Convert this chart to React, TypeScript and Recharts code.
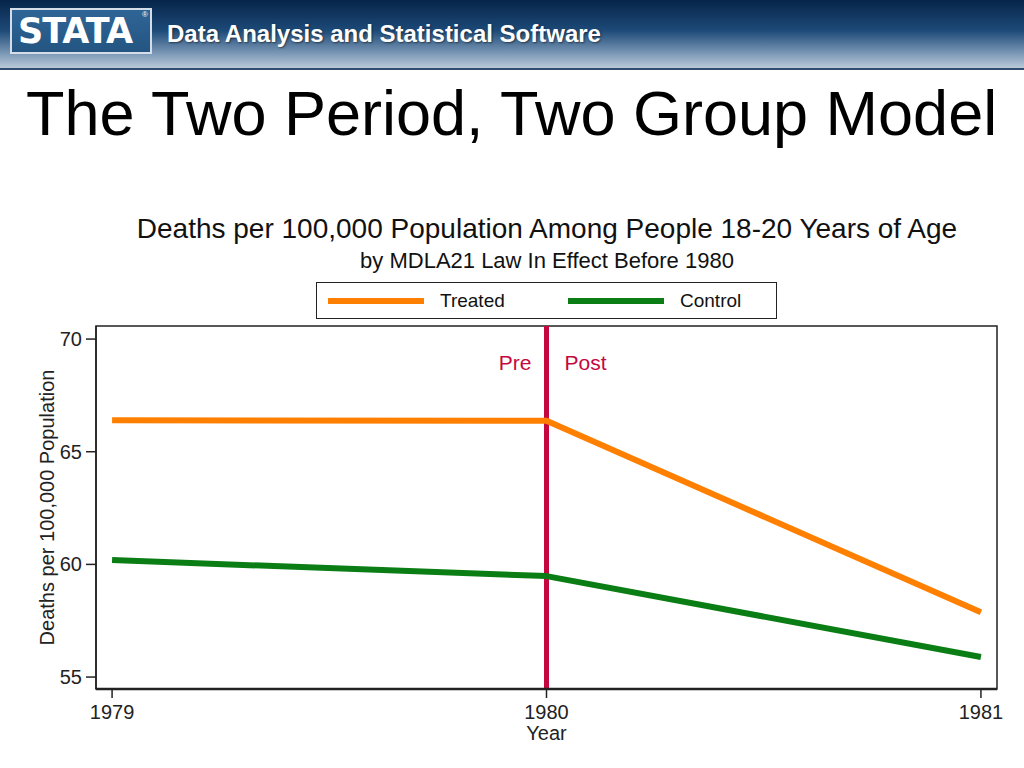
import React from "react";
import {
  LineChart,
  Line,
  XAxis,
  YAxis,
  ReferenceLine,
  ReferenceArea,
  Label,
} from "recharts";

const years = [1979, 1980, 1981];
const treated = [66.4, 66.37, 57.88];
const control = [60.19, 59.48, 55.89];
const yTicks = [55, 60, 65, 70];
const xTicks = [1979, 1980, 1981];
const seriesNames = ["Treated", "Control"];
const seriesColors = ["#FF8000", "#0A7D14"];

const data = years.map((y, i) => ({ year: y, Treated: treated[i], Control: control[i] }));

const X_DOMAIN: [number, number] = [1978.963, 1981.037];
const Y_DOMAIN: [number, number] = [54.47, 70.58];
const FONT = "'Liberation Sans', Arial, sans-serif";
const CRIMSON = "#C4083F";

const LegendBox = () => (
  <div
    style={{
      position: "absolute",
      left: 316,
      top: 282,
      width: 461,
      height: 37,
      border: "1.5px solid #222",
      boxSizing: "border-box",
      background: "#fff",
      fontFamily: FONT,
      fontSize: 19,
      color: "#111",
    }}
  >
    {seriesNames.map((n, i) => (
      <div key={n} style={{ position: "absolute", left: 11 + i * 240, top: 0, height: 35, display: "flex", alignItems: "center" }}>
        <div style={{ width: 96, height: 6, background: seriesColors[i] }} />
        <span style={{ marginLeft: 16 }}>{n}</span>
      </div>
    ))}
  </div>
);

const PrePost = (props: any) => {
  const vb = props.viewBox || {};
  const x = vb.x ?? 0;
  const y = vb.y ?? 0;
  return (
    <g fontFamily={FONT} fontSize={21} fill={CRIMSON}>
      <text x={x - 15} y={y + 44} textAnchor="end">Pre</text>
      <text x={x + 18} y={y + 44} textAnchor="start">Post</text>
    </g>
  );
};

export default function App() {
  return (
    <div style={{ position: "fixed", left: 0, top: 0, width: 1024, height: 768, background: "#fff", overflow: "hidden", fontFamily: FONT }}>
      {/* header */}
      <div
        style={{
          position: "absolute",
          left: 0,
          top: 0,
          width: 1024,
          height: 68,
          background: "linear-gradient(180deg, #06254a 0%, #1d4a78 45%, #7f9bb8 80%, #b9c9d8 100%)",
          borderBottom: "2px solid #2f4d6e",
        }}
      />
      <div
        style={{
          position: "absolute",
          left: 10,
          top: 8,
          width: 142,
          height: 46,
          background: "linear-gradient(180deg, #2f6596 0%, #245582 100%)",
          border: "2px solid #d5dee8",
          boxSizing: "border-box",
        }}
      >
        <div
          style={{
            position: "absolute",
            left: 6,
            top: 1,
            color: "#fff",
            fontFamily: "'DejaVu Sans', sans-serif",
            fontWeight: 900,
            fontSize: 35,
            lineHeight: "40px",
            letterSpacing: -1,
            whiteSpace: "nowrap",
          }}
        >
          STATA
        </div>
        <div style={{ position: "absolute", right: 2, top: 1, fontSize: 8, lineHeight: "8px", color: "#fff" }}>®</div>
      </div>
      <div
        style={{
          position: "absolute",
          left: 167,
          top: 20,
          color: "#fff",
          fontWeight: "bold",
          fontSize: 24,
          fontFamily: FONT,
          textShadow: "1px 1px 2px rgba(0,0,0,0.5)",
          whiteSpace: "nowrap",
        }}
      >
        Data Analysis and Statistical Software
      </div>
      {/* main title */}
      <div style={{ position: "absolute", left: 26, top: 77, fontSize: 63, color: "#000", whiteSpace: "nowrap", fontFamily: FONT }}>
        The Two Period, Two Group Model
      </div>
      {/* chart titles */}
      <div style={{ position: "absolute", left: 0, width: 1094, top: 213, textAlign: "center", fontSize: 28, color: "#111", whiteSpace: "nowrap" }}>
        Deaths per 100,000 Population Among People 18-20 Years of Age
      </div>
      <div style={{ position: "absolute", left: 0, width: 1094, top: 248, textAlign: "center", fontSize: 22, color: "#111", whiteSpace: "nowrap" }}>
        by MDLA21 Law In Effect Before 1980
      </div>
      <LegendBox />
      <div style={{ position: "absolute", left: 0, top: 0 }}>
        <LineChart width={1024} height={768} data={data} margin={{ left: 56, right: 27, top: 326, bottom: 49 }}>
          <ReferenceArea
            x1={X_DOMAIN[0]}
            x2={X_DOMAIN[1]}
            y1={Y_DOMAIN[0]}
            y2={Y_DOMAIN[1]}
            fill="none"
            stroke="#222"
            strokeWidth={1.5}
            ifOverflow="visible"
          />
          <XAxis
            dataKey="year"
            type="number"
            domain={X_DOMAIN}
            ticks={xTicks}
            allowDataOverflow
            height={30}
            tickSize={9}
            tickLine={{ stroke: "#222", strokeWidth: 1.5 }}
            axisLine={{ stroke: "#222", strokeWidth: 2.5 }}
            tick={{ fill: "#222", fontSize: 20, fontFamily: FONT, dy: 5 }}
          >
            <Label value="Year" position="bottom" offset={0} dy={7} style={{ fill: "#222", fontSize: 20, fontFamily: FONT }} />
          </XAxis>
          <YAxis
            type="number"
            domain={Y_DOMAIN}
            ticks={yTicks}
            allowDataOverflow
            width={40}
            tickSize={10}
            tickLine={{ stroke: "#222", strokeWidth: 1.5 }}
            axisLine={{ stroke: "#222", strokeWidth: 1.5 }}
            tick={{ fill: "#222", fontSize: 20, fontFamily: FONT, dx: -2 }}
          >
            <Label
              value="Deaths per 100,000 Population"
              angle={-90}
              position="insideLeft"
              offset={0}
              dx={-9}
              style={{ textAnchor: "middle", fill: "#222", fontSize: 20, fontFamily: FONT }}
            />
          </YAxis>
          <ReferenceLine x={1980} stroke={CRIMSON} strokeWidth={5} label={<PrePost />} />
          <Line dataKey="Treated" stroke={seriesColors[0]} strokeWidth={6} dot={false} isAnimationActive={false} strokeLinejoin="round" />
          <Line dataKey="Control" stroke={seriesColors[1]} strokeWidth={6} dot={false} isAnimationActive={false} strokeLinejoin="round" />
        </LineChart>
      </div>
    </div>
  );
}
